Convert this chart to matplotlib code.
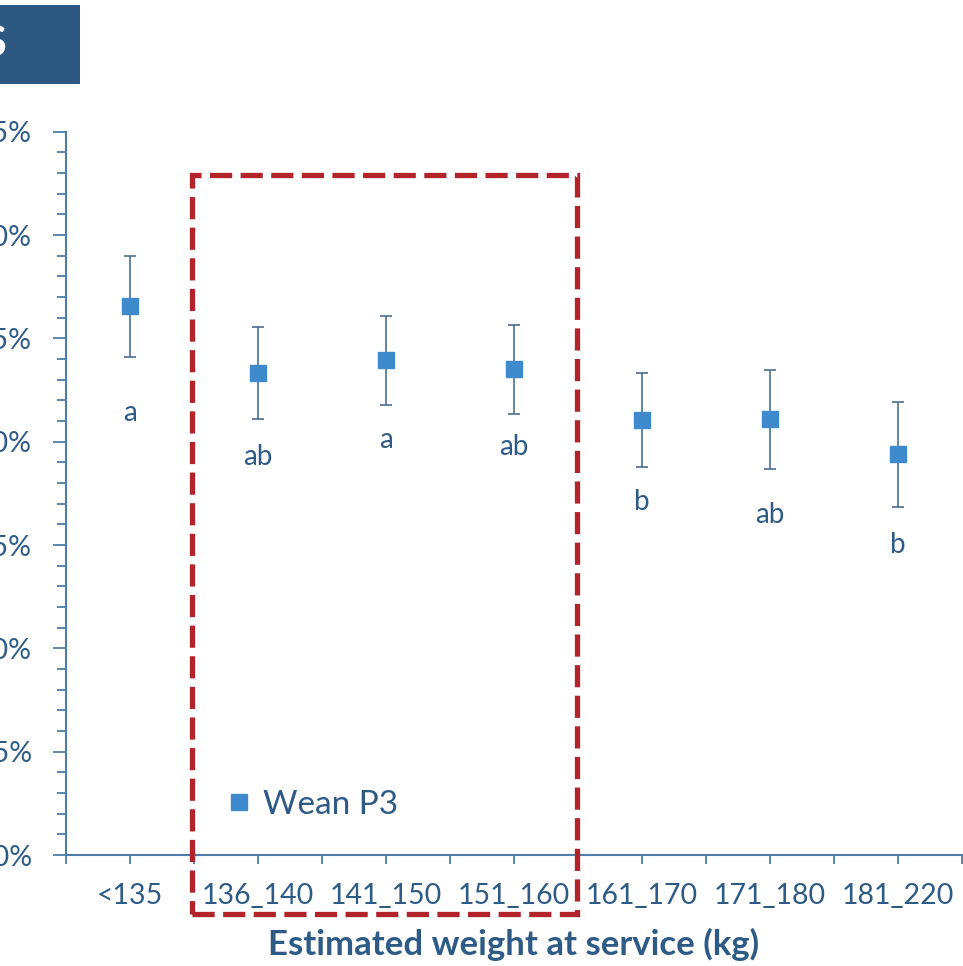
import matplotlib
matplotlib.use("Agg")
import matplotlib.pyplot as plt
from matplotlib.patches import Rectangle
from matplotlib.ticker import MultipleLocator, FixedLocator

# donnees
categories = ["<135", "136_140", "141_150", "151_160", "161_170", "171_180", "181_220"]
valeurs = [76.55, 73.32, 73.94, 73.50, 71.03, 71.08, 69.39]
erreurs = [2.45, 2.23, 2.15, 2.14, 2.27, 2.40, 2.55]
lettres = ["a", "ab", "a", "ab", "b", "ab", "b"]
lettres_y = [71.4, 69.25, 70.07, 69.73, 67.07, 66.44, 64.99]
y_ticks = [50, 55, 60, 65, 70, 75, 80, 85]

bleu_texte = "#2E5B86"
bleu_axe = "#4F7DAA"
bleu_point = "#3F8ACD"
rouge = "#B2232A"

plt.rcParams["font.family"] = ["Lato", "DejaVu Sans"]

fig = plt.figure(figsize=(9.63, 9.66), dpi=100)
ax = fig.add_axes([66 / 963, 1 - 855 / 966, 896 / 963, (855 - 131.7) / 966])

x = list(range(1, len(categories) + 1))
ax.errorbar(x, valeurs, yerr=erreurs, fmt="none", ecolor="#4A6F95",
            elinewidth=1.2, capsize=4, capthick=1.2, zorder=2)
ax.plot(x, valeurs, "s", color=bleu_point, markersize=12, label="Wean P3", zorder=3)

for xi, lt, ly in zip(x, lettres, lettres_y):
    ax.text(xi, ly, lt, ha="center", va="center", fontsize=20, color=bleu_texte)

ax.set_xlim(0.5, 7.5)
ax.set_ylim(50, 85)
ax.set_xticks(x)
ax.set_xticklabels(categories)
ax.xaxis.set_minor_locator(FixedLocator([i + 0.5 for i in range(0, 8)]))
ax.set_yticks(y_ticks)
ax.set_yticklabels([f"{v}%" for v in y_ticks])
ax.yaxis.set_minor_locator(MultipleLocator(1))

for s in ["top", "right"]:
    ax.spines[s].set_visible(False)
for s in ["left", "bottom"]:
    ax.spines[s].set_color(bleu_axe)
    ax.spines[s].set_linewidth(1.5)

ax.tick_params(axis="x", which="both", length=6.5, width=1.3, color=bleu_axe,
               labelsize=20.5, labelcolor=bleu_texte, pad=14)
ax.tick_params(axis="y", which="major", length=9.5, width=1.3, color=bleu_axe,
               labelsize=20.5, labelcolor=bleu_texte, pad=15)
ax.tick_params(axis="y", which="minor", length=6.5, width=1.3, color=bleu_axe)

ax.set_xlabel("Estimated weight at service (kg)", fontsize=25, fontweight="bold",
              color=bleu_texte, labelpad=13)

ax.legend(loc="center left", bbox_to_anchor=(196 / 963, 1 - 805 / 966),
          bbox_transform=fig.transFigure, frameon=False, fontsize=24,
          handlelength=0.8, handletextpad=0.3, labelcolor=bleu_texte)

# cadre rouge en pointilles
cadre = Rectangle((192 / 963, 1 - 914 / 966), 385 / 963, 739 / 966,
                  transform=fig.transFigure, fill=False, edgecolor=rouge,
                  linewidth=3.8, linestyle=(0, (4.2, 1.6)), clip_on=False, zorder=5)
fig.patches.append(cadre)

# boite du titre (coupee)
boite = Rectangle((0, 1 - 84 / 966), 80 / 963, 79 / 966, transform=fig.transFigure,
                  facecolor="#2C5882", edgecolor="none")
fig.patches.append(boite)
fig.text(6 / 963, 1 - 44 / 966, "S", ha="right", va="center", fontsize=30,
         fontweight="bold", color="white")

fig.savefig("out.png", dpi=100)
